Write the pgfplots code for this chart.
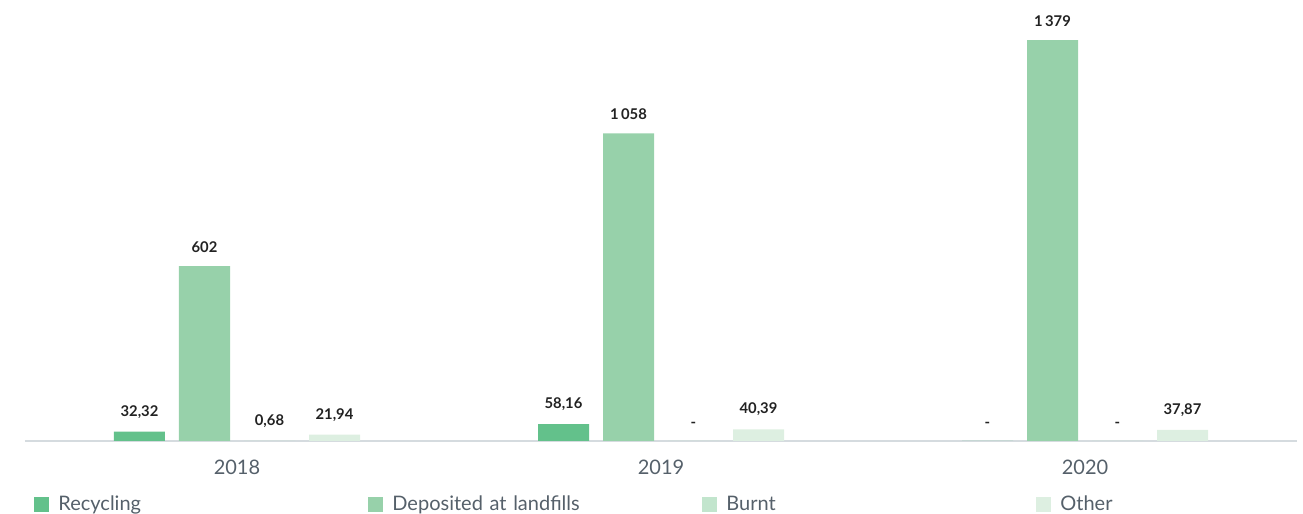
\documentclass[border=0pt]{standalone}
\usepackage{pgfplots}
\pgfplotsset{compat=1.18}
\usepackage{pgfplotstable}
\usepackage{fontspec}
\setmainfont{Lato}

\definecolor{recyc}{HTML}{63C18B}
\definecolor{landf}{HTML}{97D1AA}
\definecolor{burnt}{HTML}{C2E5CD}
\definecolor{other}{HTML}{DDEFE1}
\definecolor{baseline}{HTML}{D5DBDF}
\definecolor{yeartxt}{HTML}{55606A}
\definecolor{valtxt}{HTML}{222222}

% waste by treatment route; x = year index (0 = 2018)
\pgfplotstableread{
x y lab
0 32.32 {32,32}
1 58.16 {58,16}
2 0 {-}
}\recycling
\pgfplotstableread{
x y lab
0 602 {602}
1 1058 {1\,058}
2 1379 {1\,379}
}\landfill
\pgfplotstableread{
x y lab
0 0.68 {0,68}
1 0 {-}
2 0 {-}
}\burnt
\pgfplotstableread{
x y lab
0 21.94 {21,94}
1 40.39 {40,39}
2 37.87 {37,87}
}\other

\begin{document}
\begin{tikzpicture}
\useasboundingbox (0,0) rectangle (651.5pt,257pt);
\begin{axis}[
  at={(12.5pt,36.5pt)}, anchor=south west,
  scale only axis, width=636pt, height=218pt,
  xmin=-0.5, xmax=2.5, ymin=0, ymax=1500,
  ybar=7pt, bar width=25.5pt,
  axis x line*=bottom, axis y line=none,
  x axis line style={draw=baseline, line width=1pt},
  xtick={0,1,2}, xticklabels={2018,2019,2020},
  major tick length=0pt,
  xticklabel style={font=\fontsize{10}{12}\selectfont, text=yeartxt, yshift=-6pt},
  ytick=\empty,
  clip=false,
  nodes near coords,
  point meta=explicit symbolic,
  every node near coord/.append style={font=\bfseries\fontsize{7.4}{9}\selectfont, text=valtxt, inner sep=0pt, yshift=6.5pt},
  legend columns=4,
  legend style={draw=none, fill=none, at={(0,0)}, anchor=west, xshift=4.5pt, yshift=-32pt,
    inner sep=0pt,
    nodes={inner sep=0pt, text width=155pt, align=left, font=\fontsize{10}{12}\selectfont, text=yeartxt},
    /tikz/every odd column/.append style={column sep=4.5pt}},
  legend image code/.code={\fill[#1] (0pt,-3.75pt) rectangle (7.5pt,3.75pt);},
]
\addplot[fill=recyc, draw=none] table[x=x, y=y, meta=lab] {\recycling};
\addplot[fill=landf, draw=none] table[x=x, y=y, meta=lab] {\landfill};
\addplot[fill=burnt, draw=none] table[x=x, y=y, meta=lab] {\burnt};
\addplot[fill=other, draw=none] table[x=x, y=y, meta=lab] {\other};
\legend{Recycling, Deposited at landfills, Burnt, Other}
\end{axis}
\end{tikzpicture}
\end{document}
